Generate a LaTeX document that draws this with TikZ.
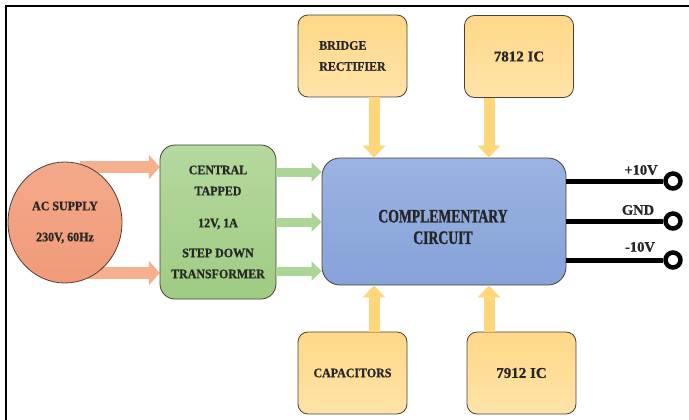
\documentclass[tikz,border=0pt]{standalone}
\usepackage{fontspec}
\setmainfont{Liberation Serif}
\newfontfamily\cfa{Liberation Serif Bold}[FakeStretch=0.92,FakeBold=0.7]
\newfontfamily\cfb{Liberation Serif Bold}[FakeStretch=0.72,FakeBold=1.2]
\newfontfamily\cfc{Liberation Serif Bold}[FakeBold=0.7]
\usetikzlibrary{arrows.meta,calc,shapes.geometric}
\definecolor{salfill}{HTML}{F4A98A}
\definecolor{salfillb}{HTML}{F09A78}
\definecolor{salarr}{HTML}{F5B08E}
\definecolor{grfill}{HTML}{B5D99E}
\definecolor{grfillb}{HTML}{9FCB83}
\definecolor{grarr}{HTML}{ADD597}
\definecolor{blfill}{HTML}{9AB3E2}
\definecolor{blfillb}{HTML}{86A2D8}
\definecolor{yefill}{HTML}{FFD888}
\definecolor{yefillb}{HTML}{FFE3A8}
\definecolor{yearr}{HTML}{FFD77A}
\definecolor{edge}{HTML}{4A4038}
\definecolor{ink}{HTML}{262626}
\tikzset{
  txt/.style={font=\cfa\fontsize{13}{21}\selectfont, text=ink},
  ictxt/.style={font=\cfc\fontsize{15}{17}\selectfont, text=ink},
  ybox/.style={draw=edge, line width=0.8pt, rounded corners=10pt, top color=yefill, bottom color=yefillb, minimum width=109pt, minimum height=82pt, txt},
  salarrow/.style={draw=salarr, line width=12pt, -{Triangle[width=24pt,length=11pt]}},
  grarrow/.style={draw=grarr, line width=9pt, -{Triangle[width=19pt,length=10pt]}},
  yearrow/.style={draw=yearr, line width=11pt, -{Triangle[width=22pt,length=12pt]}},
  outwire/.style={draw=black, line width=5pt},
  term/.style={circle, draw=black, line width=4.5pt, fill=white, minimum size=15pt, inner sep=0pt},
  outlbl/.style={font=\cfc\fontsize{14.5}{16}\selectfont, text=ink},
  frame/.style={draw=black, line width=2.6pt}
}
\begin{document}
\begin{tikzpicture}[x=1pt,y=-1pt]
\useasboundingbox (0,0) rectangle (689,420);
% frame
\coordinate (fa) at (6,420);
\coordinate (fc) at (689,6);
\draw[frame] (fa) -- (6,6) -- (fc);

% coordinates for arrow rows
\coordinate (s1) at (80,167);
\coordinate (s2) at (80,273);
\coordinate (g1) at (0,172);
\coordinate (g2) at (0,222);
\coordinate (g3) at (0,271);
\coordinate (xa) at (374,0);
\coordinate (xb) at (489,0);
\coordinate (o1) at (0,181);
\coordinate (o2) at (0,221);
\coordinate (o3) at (0,260);

% arrows behind the shapes
\node[draw=none, minimum width=116pt, minimum height=154pt] (trph) at (218,222) {};
\draw[salarrow] (s1) -- (s1 -| trph.west);
\draw[salarrow] (s2) -- (s2 -| trph.west);

% AC supply
\node[ellipse, draw=edge, line width=0.8pt, top color=salfill, bottom color=salfillb,
      minimum width=114pt, minimum height=121pt, inner sep=0pt, align=center, txt] (ac) at (65,222.5)
      {AC SUPPLY\\[10pt]230V, 60Hz};

% transformer
\node[draw=edge, line width=0.8pt, rounded corners=15pt, top color=grfill, bottom color=grfillb,
      minimum width=116pt, minimum height=154pt, align=center, txt] (tr) at (218,222)
      {CENTRAL\\TAPPED\\[11pt]12V, 1A\\[9pt]STEP DOWN\\TRANSFORMER};

% complementary circuit
\node[draw=edge, line width=0.8pt, rounded corners=18pt, top color=blfill, bottom color=blfillb,
      minimum width=244pt, minimum height=127pt] (cc) at (444,221.5) {};
\node[align=center, font=\cfb\fontsize{19}{21.5}\selectfont, text=ink] (cct) at (443,227)
      {COMPLEMENTARY\\CIRCUIT};

% yellow boxes
\node[ybox, align=left] (br) at (352.5,56) {BRIDGE\\RECTIFIER};
\node[ybox, ictxt] (ic1) at (519,56.5) {7812 IC};
\node[ybox] (cap) at (352.5,373) {CAPACITORS};
\node[ybox, ictxt] (ic2) at (521.5,373) {7912 IC};

% green arrows
\draw[grarrow] (g1 -| tr.east) -- (g1 -| cc.west);
\draw[grarrow] (g2 -| tr.east) -- (g2 -| cc.west);
\draw[grarrow] (g3 -| tr.east) -- (g3 -| cc.west);

% yellow arrows
\draw[yearrow] (xa |- br.south) -- (xa |- cc.north);
\draw[yearrow] (xb |- ic1.south) -- (xb |- cc.north);
\draw[yearrow] (xa |- cap.north) -- (xa |- cc.south);
\draw[yearrow] (xb |- ic2.north) -- (xb |- cc.south);

% outputs
\node[term] (t1) at (673,181) {};
\node[term] (t2) at (673,221) {};
\node[term] (t3) at (673,260) {};
\draw[outwire] (o1 -| cc.east) -- (t1.west);
\draw[outwire] (o2 -| cc.east) -- (t2.west);
\draw[outwire] (o3 -| cc.east) -- (t3.west);
\node[outlbl] (l1) at (641,170) {+10V};
\node[outlbl] (l2) at (638,210) {GND};
\node[outlbl] (l3) at (640,247) {-10V};
\end{tikzpicture}
\end{document}
